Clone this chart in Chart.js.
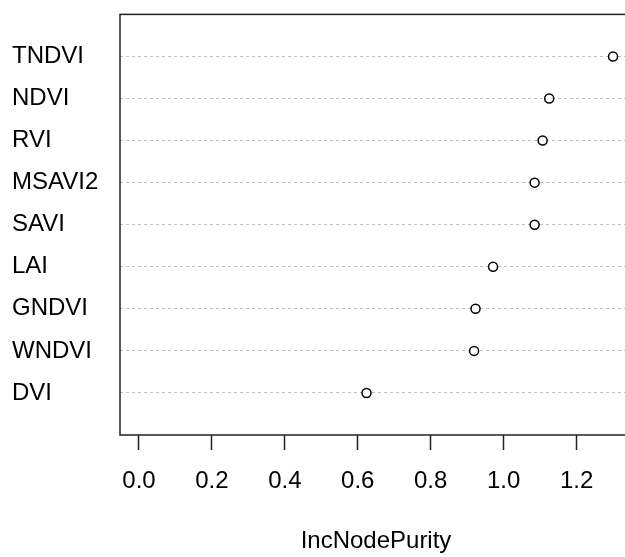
<!DOCTYPE html>
<html lang="en">
  <head>
    <meta charset="UTF-8" />
    <title>IncNodePurity</title>
    <script src="https://cdn.jsdelivr.net/npm/chart.js"></script>
    <style>
      html, body {
        margin: 0;
        padding: 0;
        background: #fff;
        overflow: hidden;
      }
      .wrap {
        width: 625px;
        height: 557px;
        overflow: hidden;
      }
      .box {
        width: 640px;
        height: 557px;
      }
    </style>
  </head>
  <body>
    <div class="wrap">
      <div class="box"><canvas id="dotChart"></canvas></div>
    </div>

    <script>
      // variaveis (de cima para baixo) e IncNodePurity
      const indices = ["TNDVI", "NDVI", "RVI", "MSAVI2", "SAVI", "LAI", "GNDVI", "WNDVI", "DVI"];
      const pureza = [1.300, 1.125, 1.107, 1.085, 1.085, 0.971, 0.923, 0.919, 0.624];
      const xTicks = [0.0, 0.2, 0.4, 0.6, 0.8, 1.0, 1.2];

      const n = indices.length;
      // linha 1 = ultima variavel (embaixo), como no dotchart do R
      const pontos = pureza.map((v, i) => ({ x: v, y: n - i }));

      const fonte = { family: "'Liberation Sans', Arial, sans-serif", size: 24 };

      // moldura do grafico (caixa do R)
      const moldura = {
        id: "moldura",
        afterDraw(chart) {
          const { ctx, chartArea } = chart;
          ctx.save();
          ctx.strokeStyle = "#222";
          ctx.lineWidth = 1.5;
          ctx.strokeRect(chartArea.left, chartArea.top,
            chartArea.right - chartArea.left, chartArea.bottom - chartArea.top);
          ctx.restore();
        },
      };

      const ctxDot = document.getElementById("dotChart").getContext("2d");

      const dotChart = new Chart(ctxDot, {
        type: "scatter",
        data: {
          datasets: [
            {
              label: "IncNodePurity",
              data: pontos,
              pointStyle: "circle",
              pointRadius: 4.5,
              pointBorderWidth: 1.5,
              pointBorderColor: "#000",
              pointBackgroundColor: "#fff",
            },
          ],
        },
        options: {
          responsive: true,
          maintainAspectRatio: false,
          animation: false,
          layout: { padding: { left: 12, top: 12, right: 8, bottom: 0 } },
          plugins: {
            legend: { display: false },
            tooltip: { enabled: false },
          },
          scales: {
            x: {
              type: "linear",
              min: -0.052,
              max: 1.352,
              afterBuildTicks: (axis) => {
                axis.ticks = xTicks.map((v) => ({ value: v }));
              },
              afterFit: (axis) => {
                axis.height = 122;
              },
              border: { display: false },
              grid: {
                drawOnChartArea: false,
                drawTicks: true,
                tickLength: 15,
                tickWidth: 1.5,
                tickColor: "#222",
              },
              ticks: {
                color: "#000",
                font: fonte,
                padding: 17,
                maxRotation: 0,
                callback: (v) => Number(v).toFixed(1),
              },
              title: {
                display: true,
                text: "IncNodePurity",
                color: "#000",
                font: fonte,
                padding: { top: 0, bottom: 1 },
              },
            },
            y: {
              type: "linear",
              min: 0,
              max: n + 1,
              afterBuildTicks: (axis) => {
                axis.ticks = indices.map((_, i) => ({ value: i + 1 }));
              },
              afterFit: (axis) => {
                axis.width = 108;
              },
              // linhas pontilhadas cinza
              border: { display: false, dash: [3, 3] },
              grid: {
                drawTicks: false,
                color: "#bebebe",
                lineWidth: 1,
              },
              ticks: {
                color: "#000",
                font: fonte,
                crossAlign: "far",
                padding: 0,
                callback: (v) => indices[n - v] || "",
              },
            },
          },
        },
        plugins: [moldura],
      });
    </script>
  </body>
</html>
